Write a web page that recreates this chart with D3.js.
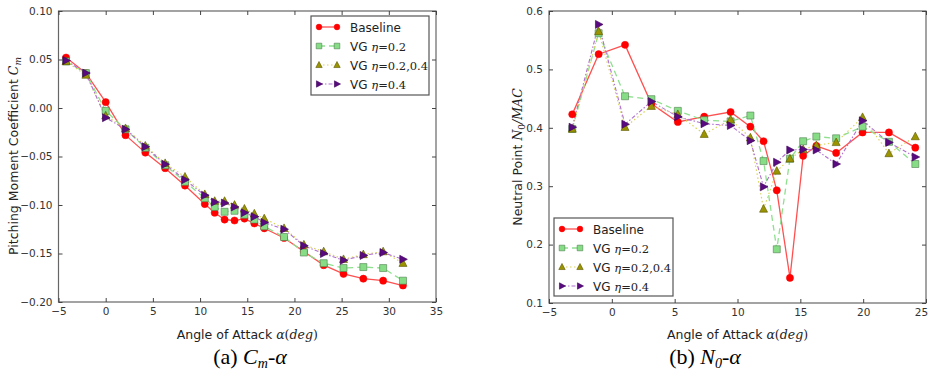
<!DOCTYPE html>
<html>
<head>
<meta charset="utf-8">
<script src="https://cdn.jsdelivr.net/npm/d3@7"></script>
<style>
  html, body { margin: 0; padding: 0; background: #fff; }
  svg { display: block; }
</style>
</head>
<body>
<svg id="chart" width="928" height="376"></svg>
<script>
// Angle of attack (deg) for the pitching-moment panel
const cmAlpha = [-4.2, -2.1, 0, 2.1, 4.2, 6.3, 8.4, 10.5, 11.55, 12.6, 13.65, 14.7, 15.75, 16.8, 18.9, 21.0, 23.1, 25.2, 27.3, 29.4, 31.5];
const cmBaseline = [0.052, 0.036, 0.006, -0.028, -0.046, -0.062, -0.080, -0.099, -0.108, -0.115, -0.116, -0.114, -0.119, -0.124, -0.134, -0.148, -0.162, -0.171, -0.176, -0.178, -0.183];
const cmVG02     = [0.048, 0.036, -0.003, -0.022, -0.041, -0.059, -0.076, -0.093, -0.102, -0.107, -0.106, -0.110, -0.115, -0.122, -0.133, -0.149, -0.160, -0.165, -0.164, -0.165, -0.178];
const cmVG0204   = [0.048, 0.034, -0.008, -0.021, -0.039, -0.057, -0.071, -0.089, -0.096, -0.096, -0.100, -0.104, -0.109, -0.114, -0.124, -0.141, -0.148, -0.156, -0.151, -0.148, -0.160];
const cmVG04     = [0.049, 0.036, -0.010, -0.022, -0.040, -0.058, -0.074, -0.090, -0.097, -0.098, -0.102, -0.108, -0.112, -0.118, -0.125, -0.142, -0.150, -0.157, -0.152, -0.149, -0.156];

// Angle of attack (deg) for the neutral-point panel
const npAlpha = [-3.15, -1.05, 1.05, 3.15, 5.25, 7.35, 9.45, 11.025, 12.075, 13.125, 14.175, 15.225, 16.275, 17.85, 19.95, 22.05, 24.15];
const npBaseline = [0.423, 0.526, 0.542, 0.441, 0.410, 0.419, 0.427, 0.402, 0.377, 0.293, 0.143, 0.352, 0.369, 0.357, 0.392, 0.392, 0.366];
const npVG02     = [0.398, 0.562, 0.454, 0.449, 0.429, 0.413, 0.411, 0.421, 0.343, 0.192, 0.347, 0.377, 0.385, 0.382, 0.402, 0.376, 0.338];
const npVG0204   = [0.398, 0.565, 0.401, 0.437, 0.423, 0.389, 0.414, 0.383, 0.261, 0.326, 0.347, 0.363, 0.370, 0.375, 0.418, 0.356, 0.385];
const npVG04     = [0.401, 0.577, 0.406, 0.445, 0.419, 0.407, 0.404, 0.378, 0.299, 0.341, 0.362, 0.363, 0.362, 0.338, 0.412, 0.375, 0.350];

// Tick values
const cmXTicks = [-5, 0, 5, 10, 15, 20, 25, 30, 35];
const cmYTicks = [-0.20, -0.15, -0.10, -0.05, 0.00, 0.05, 0.10];
const npXTicks = [-5, 0, 5, 10, 15, 20, 25];
const npYTicks = [0.1, 0.2, 0.3, 0.4, 0.5, 0.6];

// Legend labels: plain prefix + math part
const seriesLabels = [
  { plain: "Baseline", math: null },
  { plain: "VG ", math: "0.2" },
  { plain: "VG ", math: "0.2,0.4" },
  { plain: "VG ", math: "0.4" }
];

const styles = [
  { line: "#ff5050", lw: 1.3, dash: null, marker: "circle", fill: "#ff0000", stroke: "#ff0000", size: 3.6 },
  { line: "#8ee08e", lw: 1.3, dash: "6,4", marker: "square", fill: "#86dd86", stroke: "#4f7f4f", size: 7 },
  { line: "#d9d45a", lw: 1.2, dash: "1.5,2.5", marker: "triUp", fill: "#9a9400", stroke: "#5a5500", size: 8 },
  { line: "#b070d0", lw: 1.1, dash: "4,2,1.5,2", marker: "triRight", fill: "#5a0a80", stroke: "#3a0055", size: 8 }
];

const svg = d3.select("#chart");
const sans = "'DejaVu Sans', sans-serif";
const serif = "'DejaVu Serif', serif";

function markerPath(type, s) {
  const h = s / 2;
  if (type === "square") return `M${-h},${-h}H${h}V${h}H${-h}Z`;
  if (type === "triUp") return `M0,${-h * 1.1}L${h},${h * 0.8}L${-h},${h * 0.8}Z`;
  if (type === "triRight") return `M${h * 1.1},0L${-h * 0.8},${h}L${-h * 0.8},${-h}Z`;
  return null;
}

function drawMarker(g, st, x, y, scale = 1) {
  if (st.marker === "circle") {
    g.append("circle").attr("cx", x).attr("cy", y).attr("r", st.size * scale)
      .attr("fill", st.fill).attr("stroke", st.stroke).attr("stroke-width", 0.5);
  } else {
    g.append("path").attr("d", markerPath(st.marker, st.size * scale))
      .attr("transform", `translate(${x},${y})`)
      .attr("fill", st.fill).attr("stroke", st.stroke).attr("stroke-width", 0.6);
  }
}

function panel(opt) {
  const x = d3.scaleLinear().domain(opt.xDomain).range([opt.left, opt.right]);
  const y = d3.scaleLinear().domain(opt.yDomain).range([opt.bottom, opt.top]);
  const g = svg.append("g");
  const tickColor = "#444";

  // clip for data
  const clipId = "clip-" + opt.id;
  svg.append("clipPath").attr("id", clipId).append("rect")
    .attr("x", opt.left).attr("y", opt.top)
    .attr("width", opt.right - opt.left).attr("height", opt.bottom - opt.top);

  // series lines, then markers on top
  const dataG = g.append("g").attr("clip-path", `url(#${clipId})`);
  opt.series.forEach((vals, i) => {
    const st = styles[i];
    const pts = opt.xs.map((a, k) => [a, vals[k]]);
    dataG.append("path")
      .attr("d", d3.line().x(d => x(d[0])).y(d => y(d[1]))(pts))
      .attr("fill", "none").attr("stroke", st.line).attr("stroke-width", st.lw)
      .attr("stroke-dasharray", st.dash);
  });
  opt.series.forEach((vals, i) => {
    const st = styles[i];
    opt.xs.forEach((a, k) => drawMarker(dataG, st, x(a), y(vals[k])));
  });

  // frame
  g.append("rect").attr("x", opt.left).attr("y", opt.top)
    .attr("width", opt.right - opt.left).attr("height", opt.bottom - opt.top)
    .attr("fill", "none").attr("stroke", "#666").attr("stroke-width", 1.2);

  // axes with inward ticks on all four sides
  const fmtX = d3.format("d");
  const xAxisG = g.append("g").attr("transform", `translate(0,${opt.bottom})`)
    .call(d3.axisBottom(x).tickValues(opt.xTicks).tickSize(-4).tickPadding(6)
      .tickFormat(d => fmtX(d).replace("-", "\u2212")))
    .call(a => a.select(".domain").remove());
  g.append("g").attr("transform", `translate(0,${opt.top})`)
    .call(d3.axisTop(x).tickValues(opt.xTicks).tickSize(-4).tickFormat(""))
    .call(a => a.select(".domain").remove());
  g.append("g").attr("transform", `translate(${opt.left},0)`)
    .call(d3.axisLeft(y).tickValues(opt.yTicks).tickSize(-4).tickPadding(6)
      .tickFormat(d => d3.format(opt.yFmt)(d).replace("-", "\u2212")))
    .call(a => a.select(".domain").remove());
  g.append("g").attr("transform", `translate(${opt.right},0)`)
    .call(d3.axisRight(y).tickValues(opt.yTicks).tickSize(-4).tickFormat(""))
    .call(a => a.select(".domain").remove());
  g.selectAll(".tick line").attr("stroke", tickColor);
  g.selectAll(".tick text").attr("font-family", sans).attr("font-size", 10.5).attr("fill", "#333");
  // keep the last x tick label inside the page edge
  if (opt.lastTickShift) {
    xAxisG.selectAll(".tick text").filter((d, i, n) => i === n.length - 1).attr("dx", opt.lastTickShift);
  }

  // x label
  const xl = g.append("text").attr("x", (opt.left + opt.right) / 2).attr("y", 339)
    .attr("text-anchor", "middle").attr("font-family", sans).attr("font-size", 12.5).attr("fill", "#222");
  xl.append("tspan").text("Angle of Attack ");
  xl.append("tspan").attr("font-family", serif).attr("font-style", "italic").text("\u03b1");
  xl.append("tspan").attr("font-family", serif).text("(");
  xl.append("tspan").attr("font-family", serif).attr("font-style", "italic").text("deg");
  xl.append("tspan").attr("font-family", serif).text(")");

  // y label
  const yl = g.append("text")
    .attr("transform", `translate(${opt.yLabelX},${opt.yLabelY}) rotate(-90)`)
    .attr("text-anchor", "middle").attr("font-family", sans).attr("font-size", 12.5).attr("fill", "#222");
  opt.yLabel(yl);

  // legend
  const lg = g.append("g");
  lg.append("rect").attr("x", opt.legend.x).attr("y", opt.legend.y)
    .attr("width", opt.legend.w).attr("height", opt.legend.h)
    .attr("fill", "#fff").attr("stroke", "#555").attr("stroke-width", 1.2);
  seriesLabels.forEach((lab, i) => {
    const st = styles[i];
    const cy = opt.legend.y + 11 + i * 19;
    const x0 = opt.legend.x + 8, x1 = opt.legend.x + 26;
    lg.append("line").attr("x1", x0).attr("x2", x1).attr("y1", cy).attr("y2", cy)
      .attr("stroke", st.line).attr("stroke-width", st.lw).attr("stroke-dasharray", st.dash);
    drawMarker(lg, st, x0, cy, 0.8);
    drawMarker(lg, st, x1, cy, 0.8);
    const t = lg.append("text").attr("x", opt.legend.x + 39).attr("y", cy + 4.5)
      .attr("font-family", sans).attr("font-size", 12).attr("fill", "#222");
    t.append("tspan").text(lab.plain);
    if (lab.math) {
      t.append("tspan").attr("font-family", serif).attr("font-style", "italic").attr("font-size", 11.5).text("\u03b7");
      t.append("tspan").attr("font-family", serif).attr("font-size", 11.5).text("=" + lab.math);
    }
  });
}

panel({
  id: "cm",
  left: 58.5, right: 436, top: 11, bottom: 302,
  xDomain: [-5, 35], yDomain: [-0.20, 0.10],
  xTicks: cmXTicks, yTicks: cmYTicks, yFmt: ".2f",
  xs: cmAlpha,
  series: [cmBaseline, cmVG02, cmVG0204, cmVG04],
  yLabelX: 18, yLabelY: 156,
  yLabel: t => {
    t.append("tspan").text("Pitching Moment Coefficient ");
    t.append("tspan").attr("font-family", serif).attr("font-style", "italic").text("C");
    t.append("tspan").attr("font-family", serif).attr("font-style", "italic").attr("font-size", 9).attr("dy", 3).text("m");
  },
  legend: { x: 311, y: 16, w: 118, h: 79 }
});

panel({
  id: "np",
  left: 549, right: 926, top: 11, bottom: 303,
  xDomain: [-5, 25], yDomain: [0.1, 0.6],
  xTicks: npXTicks, yTicks: npYTicks, yFmt: ".1f",
  xs: npAlpha,
  series: [npBaseline, npVG02, npVG0204, npVG04],
  yLabelX: 522, yLabelY: 157,
  lastTickShift: -5,
  yLabel: t => {
    t.append("tspan").text("Neutral Point ");
    t.append("tspan").attr("font-family", serif).attr("font-style", "italic").text("N");
    t.append("tspan").attr("font-family", serif).attr("font-size", 9).attr("dy", 3).text("0");
    t.append("tspan").attr("font-family", serif).attr("font-style", "italic").attr("dy", -3).text("/MAC");
  },
  legend: { x: 554, y: 218, w: 119, h: 78 }
});

// Panel captions
function caption(cx, letter, sym, sub) {
  const t = svg.append("text").attr("x", cx).attr("y", 364).attr("text-anchor", "middle")
    .attr("font-family", "'Liberation Serif', 'Times New Roman', serif").attr("font-size", 22).attr("fill", "#000");
  t.append("tspan").text(`(${letter}) `);
  t.append("tspan").attr("font-style", "italic").text(sym);
  t.append("tspan").attr("font-style", "italic").attr("font-size", 14).attr("dy", 4).text(sub);
  t.append("tspan").attr("dy", -4).text("-");
  t.append("tspan").attr("font-style", "italic").text("\u03b1");
}
caption(250, "a", "C", "m");
caption(705, "b", "N", "0");
</script>
</body>
</html>
